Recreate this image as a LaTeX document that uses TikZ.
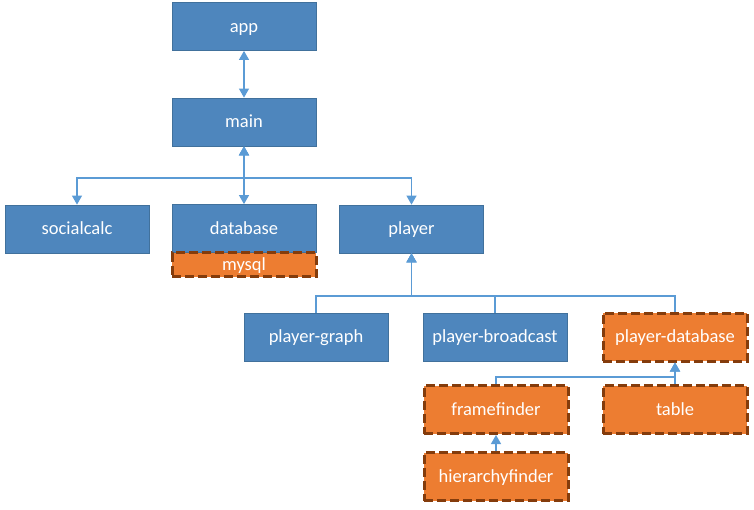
\documentclass[tikz,border=0pt]{standalone}
\usepackage{fontspec}
\setmainfont{Carlito}
\usepackage{tikz}
\usetikzlibrary{positioning,arrows.meta}
\definecolor{modblue}{HTML}{4E86BD}
\definecolor{modedge}{HTML}{41719C}
\definecolor{linkblue}{HTML}{5B9BD5}
\definecolor{neworange}{HTML}{ED7D31}
\definecolor{newedge}{HTML}{843C0C}

\begin{document}
\begin{tikzpicture}[x=1pt,y=-1pt]
\tikzstyle{module}=[rectangle, minimum width=144pt, minimum height=48pt, inner sep=0pt, text height=16pt, text depth=4.4pt, fill=modblue, draw=modedge, line width=0.8pt, text=white, font=\fontsize{18.5}{22}\selectfont]
\tikzstyle{planned}=[module, fill=neworange, draw=newedge, line width=3pt, dash pattern=on 9pt off 4pt]
\tikzstyle{link}=[draw=linkblue, line width=1.2pt]
\tikzstyle{dep}=[link, -{Triangle[width=10pt,length=9pt]}]
\tikzstyle{bidep}=[link, {Triangle[width=10pt,length=9pt]}-{Triangle[width=10pt,length=9pt]}]
\useasboundingbox (0,0) rectangle (754,510);

\node[module] (app) at (244,26.5) {app};
\node[module] (main) at (244,122) {main};
\node[module] (socialcalc) at (77,229) {socialcalc};
\node[module] (database) at (244,228.5) {database};
\node[planned, minimum height=24pt] (mysql) at (244,265) {mysql};
\node[module] (player) at (411.5,229) {player};

\node[module] (graph) at (316,337) {player-graph};
\node[module] (broadcast) at (495,337) {player-broadcast};
\node[planned] (pdatabase) at (675,337) {player-database};
\node[planned] (framefinder) at (496,409.5) {framefinder};
\node[planned] (table) at (675,409.5) {table};
\node[planned] (hierarchy) at (496,476.5) {hierarchyfinder};

\coordinate (mainbus) at (244,178);
\coordinate (playerbus) at (411.5,296);
\coordinate (pdbbus) at (675,377);

%% main and its dependencies
\draw[bidep] (app) -- (main);
\draw[bidep] (main.south) -- (mainbus) -| (socialcalc.north);
\draw[bidep] (main.south) -- (database.north);
\draw[bidep] (main.south) -- (mainbus) -| (player.north);

%% player
\draw[dep] (graph.north) |- (playerbus) -- (player.south);
\draw[dep] (broadcast.north) |- (playerbus) -- (player.south);
\draw[dep] (pdatabase.north) |- (playerbus) -- (player.south);

%% player-database
\draw[dep] (framefinder.north) |- (pdbbus) -- (pdatabase.south);
\draw[dep] (table.north) -- (pdatabase.south);
\draw[dep] (hierarchy) -- (framefinder);
\end{tikzpicture}
\end{document}
